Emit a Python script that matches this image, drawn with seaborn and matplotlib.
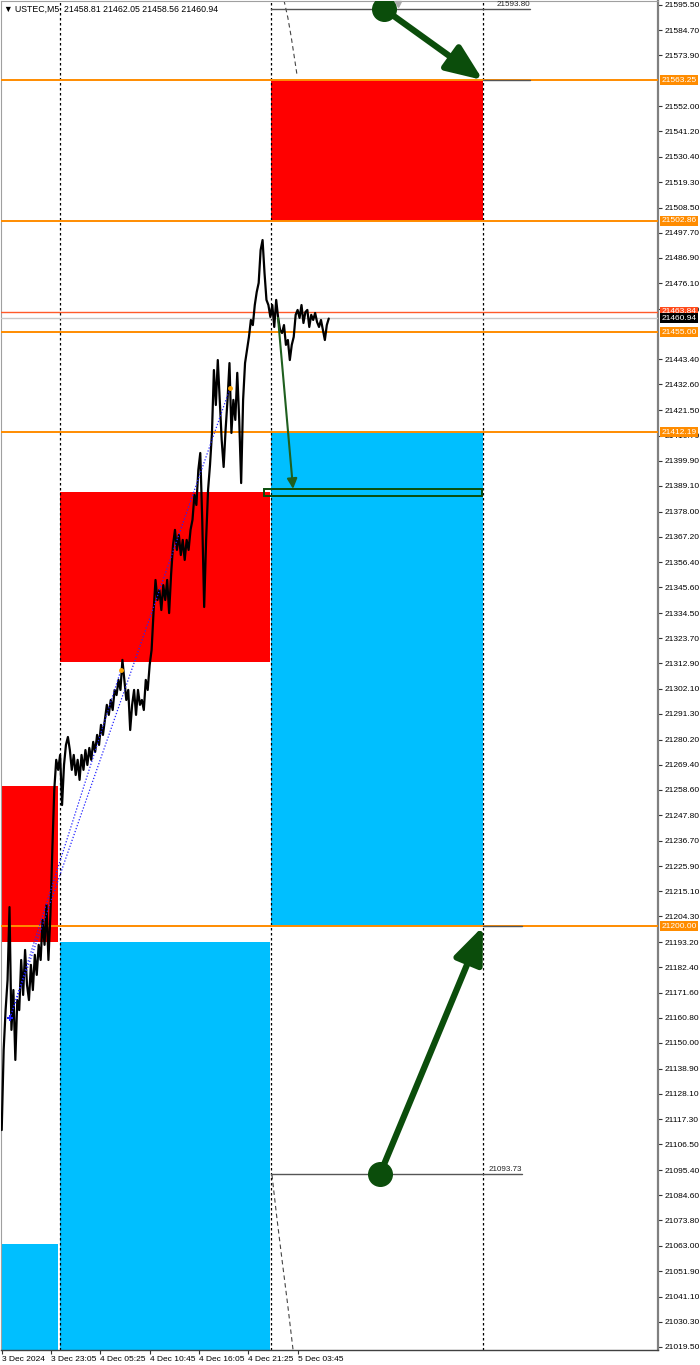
import numpy as np
import matplotlib
matplotlib.use("Agg")
import matplotlib.pyplot as plt
import seaborn as sns
from matplotlib.patches import Rectangle

sns.set_style("white")
plt.rcParams['font.family'] = ['Liberation Sans', 'DejaVu Sans']

# ---------------- data ----------------
symbol_header = "\u25BC USTEC,M5  21458.81 21462.05 21458.56 21460.94"

# M5 closes sampled every 3 bars (bar index = position * 3)
close_prices = [
    21112.6, 21147.0, 21164.1, 21177.0, 21208.3, 21155.6, 21172.7, 21142.7, 21168.4, 21164.1,
    21185.6, 21170.6, 21189.9, 21174.9, 21168.4, 21183.5, 21172.7, 21187.8, 21179.2, 21192.1,
    21185.6, 21202.8, 21192.1, 21209.2, 21185.6, 21204.9, 21232.8, 21258.6, 21271.5, 21267.2,
    21273.6, 21252.1, 21269.3, 21277.9, 21281.3, 21275.7, 21267.2, 21273.6, 21265.0, 21271.5,
    21262.9, 21273.6, 21267.2, 21275.7, 21269.3, 21276.6, 21271.5, 21279.2, 21274.9, 21282.2,
    21277.9, 21286.5, 21282.2, 21288.6, 21295.1, 21290.8, 21297.2, 21292.9, 21301.5, 21299.3,
    21305.8, 21301.5, 21314.4, 21305.8, 21297.2, 21301.5, 21284.3, 21295.1, 21301.5, 21290.8,
    21301.5, 21295.1, 21297.2, 21292.9, 21305.8, 21301.5, 21312.2, 21318.7, 21335.0, 21348.7,
    21340.1, 21344.4, 21335.8, 21346.5, 21340.1, 21348.7, 21334.5, 21350.9, 21363.7, 21370.2,
    21361.6, 21368.0, 21359.4, 21365.9, 21357.3, 21365.9, 21361.6, 21370.2, 21374.5, 21385.2,
    21380.9, 21395.9, 21403.2, 21374.5, 21337.1, 21365.9, 21387.3, 21398.1, 21411.8, 21438.8,
    21423.8, 21443.1, 21426.0, 21408.8, 21397.2, 21413.1, 21426.0, 21441.8, 21411.8, 21426.0,
    21417.4, 21437.6, 21417.4, 21390.3, 21426.0, 21441.8, 21447.4, 21453.0, 21460.3, 21458.1,
    21466.7, 21472.3, 21476.2, 21490.3, 21494.6, 21480.5, 21468.9, 21466.7, 21461.6, 21466.7,
    21457.3, 21468.9, 21461.2, 21456.0, 21454.7, 21458.1, 21449.6, 21451.7, 21443.1, 21449.6,
    21453.0, 21462.5, 21464.6, 21461.2, 21466.7, 21459.0, 21463.7, 21464.6, 21457.3, 21462.5,
    21460.3, 21463.3, 21459.4, 21457.3, 21460.3, 21456.0, 21451.7, 21458.1, 21460.9,
]
bar_step = 3

time_tick_bars = [0, 76, 152, 228, 304, 380, 456]
time_tick_labels = ["3 Dec 2024", "3 Dec 23:05", "4 Dec 05:25", "4 Dec 10:45",
                    "4 Dec 16:05", "4 Dec 21:25", "5 Dec 03:45"]

price_ticks = [21595.50, 21584.70, 21573.90, 21552.00, 21541.20, 21530.40, 21519.30,
               21508.50, 21497.70, 21486.90, 21476.10, 21465.00, 21443.40, 21432.60,
               21421.50, 21410.70, 21399.90, 21389.10, 21378.00, 21367.20, 21356.40, 21345.60,
               21334.50, 21323.70, 21312.90, 21302.10, 21291.30, 21280.20, 21269.40, 21258.60,
               21247.80, 21236.70, 21225.90, 21215.10, 21204.30, 21193.20, 21182.40, 21171.60,
               21160.80, 21150.00, 21138.90, 21128.10, 21117.30, 21106.50, 21095.40, 21084.60,
               21073.80, 21063.00, 21051.90, 21041.10, 21030.30, 21019.50]

# supply / demand zones: (bar start, bar end, price low, price high, kind)
zone_bar_start = [415, 415, 89.8, -1.1, 89.8, -1.1]
zone_bar_end = [741.6, 741.6, 413.4, 87.2, 413.4, 87.2]
zone_low = [21502.86, 21200.00, 21313.6, 21193.2, 21000.0, 21000.0]
zone_high = [21563.25, 21412.19, 21386.3, 21260.4, 21193.5, 21063.7]
zone_kind = ["supply", "demand", "supply", "supply", "demand", "demand"]

session_lines = [89.8, 415, 741.6]

orange_levels = [21563.25, 21502.86, 21455.00, 21412.19, 21200.00]
ask_level = 21463.84
bid_level = 21460.94

target_box = (404.2, 740.0, 21384.8, 21387.8)

top_arrow_start = (589, 21593.80)
top_arrow_end = (741.6, 21563.25)
bottom_arrow_start = (583, 21093.73)
bottom_arrow_end = (741.6, 21200.00)
mid_arrow_start = (425.8, 21461.2)
mid_arrow_end = (449, 21387.8)

ref_lines = [(415, 814, 21593.80, "21593.80"), (415, 801.8, 21093.73, "21093.73")]
ext_lines = [(741.6, 814, 21563.25), (741.6, 801.8, 21200.00)]

zigzag_start = (12.8, 21160.7)
zigzag_ends = [(352, 21431.1), (183.8, 21310.1)]

arc_top_bars = [435, 441, 446, 451, 455]
arc_top_prices = [21597.5, 21590.0, 21582.0, 21573.0, 21565.6]
arc_bot_bars = [416.5, 424, 432, 441, 449]
arc_bot_prices = [21093.3, 21075.0, 21056.9, 21037.0, 21018.2]

# ---------------- figure ----------------
fig = plt.figure(figsize=(7.0, 13.65), dpi=100)
fig.patch.set_facecolor("white")
ax = fig.add_axes([1 / 700, 15 / 1365, 657 / 700, 1349 / 1365])
ax.set_facecolor("white")
ax.set_xlim(-1.1, 1011.4)
ax.set_ylim(21018.2, 21597.2)

colors = {"supply": "#FF0000", "demand": "#00BFFF"}
for x0, x1, lo, hi, k in zip(zone_bar_start, zone_bar_end, zone_low, zone_high, zone_kind):
    ax.add_patch(Rectangle((x0, lo), x1 - x0, hi - lo, facecolor=colors[k],
                           edgecolor="none", zorder=1))

for xb in session_lines:
    ax.axvline(xb, color="black", lw=0.9, ls=(0, (2, 2)), zorder=2)

ax.plot(arc_top_bars, arc_top_prices, color="#444444", lw=0.8, ls=(0, (4, 3)), zorder=2)
ax.plot(arc_bot_bars, arc_bot_prices, color="#444444", lw=0.8, ls=(0, (4, 3)), zorder=2)

for lvl in orange_levels:
    ax.axhline(lvl, color="#FF8C00", lw=1.4, zorder=3)
ax.axhline(ask_level, color="#FF5A2A", lw=1.0, zorder=3)
ax.axhline(bid_level, color="#C8C8C8", lw=1.0, zorder=3)

for x0, x1, p, lab in ref_lines:
    ax.plot([x0, x1], [p, p], color="#555555", lw=1.0, zorder=4)
    ax.text(x1, p + 0.6, lab, ha="right", va="bottom", fontsize=5.8, color="#222222", zorder=4)
for x0, x1, p in ext_lines:
    ax.plot([x0, x1], [p, p], color="#555555", lw=1.0, zorder=4)

# price line
bars = np.arange(len(close_prices)) * bar_step
sns.lineplot(x=bars, y=close_prices, color="black", lw=1.6, ax=ax,
             estimator=None, sort=False, zorder=5)

# zigzag dotted lines
for xe, pe in zigzag_ends:
    ax.plot([zigzag_start[0], xe], [zigzag_start[1], pe], color="#2222FF", lw=0.9,
            ls=(0, (1, 1.5)), zorder=6)
    ax.plot([xe], [pe], marker="o", ms=2.5, color="#FFA500", zorder=6)
ax.plot([zigzag_start[0]], [zigzag_start[1]], marker="+", ms=5, mew=1.5, color="#2222FF", zorder=6)

# target box
ax.add_patch(Rectangle((target_box[0], target_box[2]), target_box[1] - target_box[0],
                       target_box[3] - target_box[2], facecolor="none",
                       edgecolor="#0B4D0B", lw=1.4, zorder=7))

dk = "#0B4D0B"
for s, e in [(top_arrow_start, top_arrow_end), (bottom_arrow_start, bottom_arrow_end)]:
    ax.annotate("", xy=e, xytext=s,
                arrowprops=dict(arrowstyle="-|>,head_length=1.1,head_width=0.45",
                                mutation_scale=20, lw=4.5, color=dk, shrinkA=0, shrinkB=0),
                zorder=8)
    ax.plot([s[0]], [s[1]], marker="o", ms=17, color=dk, zorder=9)
ax.annotate("", xy=mid_arrow_end, xytext=mid_arrow_start,
            arrowprops=dict(arrowstyle="-|>,head_length=0.5,head_width=0.25",
                            mutation_scale=12, lw=1.5, color="#1F5F1F", shrinkA=0, shrinkB=0),
            zorder=8)

ax.plot([610.7], [21596.0], marker="v", ms=5, color="#AAAAAA", zorder=4, clip_on=False)

# axes styling
ax.yaxis.tick_right()
ax.set_yticks(price_ticks)
ax.set_yticklabels([f"{v:.2f}" for v in price_ticks])
ax.tick_params(axis="y", right=True, left=False, length=3, width=0.8, pad=2,
               labelsize=6, colors="#333333", labelcolor="black")
ax.set_xticks(time_tick_bars)
ax.set_xticklabels(time_tick_labels, ha="left")
ax.tick_params(axis="x", bottom=True, length=3, width=0.8, pad=1.5, labelsize=6,
               colors="#333333", labelcolor="black")
ax.set_xlabel("")
ax.set_ylabel("")
for lab in ax.get_xticklabels():
    lab.set_horizontalalignment("left")

for side in ["left", "top"]:
    ax.spines[side].set_color("#A0A0A0")
    ax.spines[side].set_linewidth(0.8)
ax.spines["right"].set_color("#808080")
ax.spines["right"].set_linewidth(1.6)
ax.spines["bottom"].set_color("#404040")
ax.spines["bottom"].set_linewidth(1.0)

# highlighted price labels
ytr = ax.get_yaxis_transform()
hl = [(21563.25, "#FF8C00", "white"), (21502.86, "#FF8C00", "white"),
      (21463.84, "#FF4A1A", "white"), (21460.94, "#000000", "white"),
      (21455.00, "#FF8C00", "white"), (21412.19, "#FF8C00", "white"),
      (21200.00, "#FF8C00", "white")]
for p, bg, fg in hl:
    ax.text(1.0055, p, f"{p:.2f}", transform=ytr, ha="left", va="center", fontsize=6,
            color=fg, zorder=20, clip_on=False,
            bbox=dict(boxstyle="square,pad=0.18", fc=bg, ec="none"))

fig.text(4 / 700, 1 - 9 / 1365, symbol_header, fontsize=6.3, ha="left", va="center", color="black")

fig.savefig("out.png", dpi=100, facecolor="white")
